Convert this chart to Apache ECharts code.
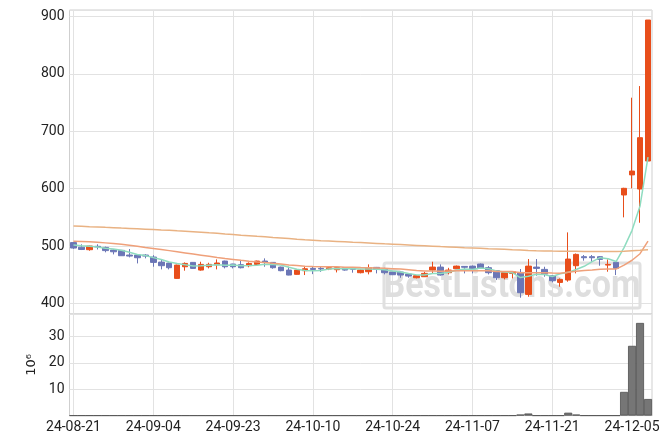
<!DOCTYPE html>
<html>
<head>
<meta charset="utf-8">
<script src="https://cdn.jsdelivr.net/npm/echarts/dist/echarts.min.js"></script>
<style>
html,body{margin:0;padding:0;background:#fff;}
#chart{width:671px;height:444px;}
</style>
</head>
<body>
<div id="chart"></div>
<script>
const categories = [
'24-08-21','24-08-22','24-08-23','24-08-26','24-08-27','24-08-28','24-08-29','24-08-30','24-09-02','24-09-03',
'24-09-04','24-09-05','24-09-09','24-09-10','24-09-11','24-09-13','24-09-16','24-09-18','24-09-19','24-09-20',
'24-09-23','24-09-24','24-09-25','24-09-26','24-09-30','24-10-01','24-10-02','24-10-04','24-10-07','24-10-09',
'24-10-10','24-10-11','24-10-14','24-10-15','24-10-16','24-10-17','24-10-18','24-10-21','24-10-22','24-10-23',
'24-10-24','24-10-25','24-10-28','24-10-29','24-10-30','24-10-31','24-11-01','24-11-04','24-11-05','24-11-06',
'24-11-07','24-11-08','24-11-11','24-11-12','24-11-13','24-11-14','24-11-15','24-11-18','24-11-19','24-11-20',
'24-11-21','24-11-22','24-11-25','24-11-26','24-11-27','24-11-28','24-11-29','24-12-02','24-12-03','24-12-04',
'24-12-05','24-12-06','24-12-09'];

const opens = [
506,498,493.6,499.5,497.6,493,492.4,484.3,484.3,484.3,
480.8,472,470.3,443.6,463.9,471.5,458.1,463.9,467.4,473.8,
468.6,467.4,465.7,467.9,473.8,471.5,463.3,458.1,450.6,457,
461,461,459.9,458.7,462.2,460.5,453.5,455.2,462.8,459.3,
454.6,454.6,451.1,444.7,446.5,458.1,463.3,453.5,460.4,464.5,
465,468.6,462.2,457,444.7,452.3,454,415.7,463.3,459.3,
448.2,436.6,440.7,465.7,481.4,481.4,481.4,466.8,471.5,589,
624,599.4,648.2];

const closes = [
496.5,494,500,498.5,492,490,483.1,482.5,479.6,482.5,
471.5,465.7,462.2,466.8,469.7,461,468,468,470.4,463.9,
463.9,462.2,469.7,473.8,472,462.2,457,449.4,458.1,460.4,
459.3,460,462.2,462.2,458.1,459.5,458.1,462.2,459.3,453.5,
450,449.4,447.6,448.2,452.3,463.3,449.4,458.1,465,463,
460.4,461,453.5,444.7,453.5,455.2,418.6,465,461,451.1,
439.5,441.8,477.3,485.4,479.6,479.6,476.7,468,461,600.6,
630.7,688.9,894];

const lows = [
495,493,491.8,494,489,485.4,483,480.2,469.7,478.5,
463.9,459.3,459.3,443,457,460,457,461,459.3,461,
461,461,463,467,463.9,460.5,456,449,450,449.4,
451,455,458,454,457,453.5,452.3,450.6,452.3,450.6,
449.4,444.7,444.7,443.6,446,452.3,448.5,450.6,459.9,452.3,
452.3,460,450.6,440.7,441.8,443.6,409.9,411.6,448.2,446.5,
436.6,429,437.8,452.3,474.4,472.6,465.7,455.2,449.4,550,
600.6,540.6,648.2];

const highs = [
507,503,500.5,503,499,494,493,494.7,485,486,
484,476,471,467.5,471.5,472,472.6,470.9,476.7,474.5,
469,475,471.5,474.5,478.5,472,464,464,459,463.9,
464,464,465,463,463,461,459,468,463.5,462,
455.5,455,452,449,455,472.6,468,462,466,465,
466,469.5,465,458,454.5,456,459.9,477.3,477.3,463.9,
449,443.6,523.8,487,484.3,484.3,482.5,476.7,472.5,601.5,
758.6,778.9,894];

const volumes = [
0,0,0,0,0,0,0,0,0,0,
0,0,0,0,0,0,0,0,0,0,
0,0,0,0,0,0,0,0,0,0,
0,0,0,0,0,0,0,0,0,0,
0,0,0,0,0,0,0,0,0,0,
0,0,0,0,0,0,0.4,0.8,0,0,
0,0,1.1,0.4,0,0,0,0,0,9.0,
26.5,35.2,6.3];

const ma5 = [
501.7,500.5,499.5,498.5,496.2,494.9,492.7,489.2,485.4,483.5,
479.8,476.4,472.3,469.7,467.2,465.1,465.5,466.7,467.4,466.3,
466.8,465.7,466.0,466.7,468.3,468.0,466.9,462.9,459.7,457.4,
456.8,457.4,460.0,460.8,460.4,460.4,460.0,460.0,459.4,458.5,
456.6,454.9,452.0,449.7,449.5,452.2,452.2,454.3,457.6,459.8,
459.2,461.5,460.6,456.5,454.6,453.6,445.1,447.4,450.7,450.2,
447.0,451.7,454.1,459.0,464.7,472.7,479.7,477.9,473.0,497.2,
527.4,569.8,655.0];

const ma20 = [
508.5,508,507.3,506.5,505.5,504.5,503,501.5,499.5,497.5,
495.8,494,492,490,488,486,484,482,480,478.3,
476.7,475.1,473.6,472.3,471.3,469.9,468.6,467.0,465.9,464.8,
464.2,463.9,463.9,463.7,463.1,463.0,462.5,462.2,461.7,461.2,
460.5,459.8,458.7,457.4,456.5,456.5,456.1,456.6,456.9,457.0,
457.1,457.1,456.7,455.8,455.6,455.4,453.4,453.6,453.6,453.5,
453.0,452.6,454.1,456.0,457.3,458.1,459.5,460.0,459.8,466.7,
475.2,486.6,508.6];

const maLong = [
535.0,534.5,533.8,533.3,532.6,532.0,531.3,530.7,530.1,529.4,
528.7,528.0,527.4,526.6,525.9,525.0,524.1,523.0,522.1,521.0,
520.1,519.0,518.1,517.0,516.1,515.0,514.0,513.0,511.9,511.0,
510.2,509.4,508.8,508.1,507.4,506.6,506.0,505.3,504.6,503.8,
503.2,502.5,501.8,501.1,500.4,499.7,499.0,498.4,497.8,497.1,
496.6,496.0,495.3,494.8,494.2,493.5,493.0,492.4,491.9,491.5,
491.2,491.0,490.9,490.8,490.6,490.6,490.5,490.5,490.4,491.0,
491.8,492.6,493.5];

const UP = '#e84e1b';
const DOWN = '#6b76b6';

const candleData = opens.map((o, i) => [o, closes[i], lows[i], highs[i]]);

const chart = echarts.init(document.getElementById('chart'), null, {renderer: 'canvas'});

const labelFont = {fontFamily: 'Roboto', fontSize: 14, color: '#222'};
const gridLineStyle = {color: '#e2e2e2', width: 1};

const option = {
  animation: false,
  backgroundColor: '#ffffff',
  grid: [
    {left: 69.5, right: 19, top: 10, height: 304, show: true, borderColor: '#cfcfcf', borderWidth: 1, backgroundColor: 'transparent'},
    {left: 69.5, right: 19, top: 314, height: 101.6, show: true, borderColor: '#cfcfcf', borderWidth: 1, backgroundColor: 'transparent'}
  ],
  xAxis: [
    {
      type: 'category', gridIndex: 0, data: categories, boundaryGap: true,
      axisLine: {show: false}, axisTick: {show: false}, axisLabel: {show: false},
      splitLine: {show: true, interval: 9, alignWithLabel: true, lineStyle: gridLineStyle}
    },
    {
      type: 'category', gridIndex: 1, data: categories, boundaryGap: true,
      axisLine: {show: true, lineStyle: {color: '#cfcfcf'}},
      axisTick: {show: false, interval: 9, alignWithLabel: true},
      axisLabel: Object.assign({interval: 9, margin: 5}, labelFont),
      splitLine: {show: true, interval: 9, alignWithLabel: true, lineStyle: gridLineStyle}
    }
  ],
  yAxis: [
    {
      type: 'value', gridIndex: 0, min: 381.5, max: 911.5, position: 'left',
      axisLine: {show: false}, axisTick: {show: false},
      axisLabel: Object.assign({margin: 5, showMinLabel: false, showMaxLabel: false}, labelFont),
      splitLine: {show: true, lineStyle: gridLineStyle}
    },
    {
      type: 'value', gridIndex: 1, min: 0, max: 38.6, position: 'left',
      axisLine: {show: false}, axisTick: {show: false},
      axisLabel: Object.assign({margin: 5, showMinLabel: false, showMaxLabel: false}, labelFont),
      splitLine: {show: true, lineStyle: gridLineStyle},
      name: '10\u2076', nameLocation: 'middle', nameGap: 28, nameRotate: 90,
      nameTextStyle: {fontFamily: 'DejaVu Sans', fontSize: 13, color: '#222'}
    }
  ],
  graphic: [
    {
      type: 'group', z: 1,
      children: [
        {type: 'rect', shape: {x: 384, y: 263, width: 256, height: 45, r: 2},
         style: {fill: 'none', stroke: '#e0e0e0', lineWidth: 3}, z: 1},
        {type: 'text', x: 512, y: 287, scaleY: 1.15, z: 1,
         style: {text: 'BestListons.com', fill: '#dedede', font: 'bold 34px Roboto', textAlign: 'center', textVerticalAlign: 'middle'}}
      ]
    }
  ],
  series: [
    {
      type: 'candlestick', xAxisIndex: 0, yAxisIndex: 0, data: candleData, barWidth: 6,
      itemStyle: {color: UP, color0: DOWN, borderColor: UP, borderColor0: DOWN, borderWidth: 1},
      z: 3
    },
    {type: 'line', xAxisIndex: 0, yAxisIndex: 0, data: ma5, showSymbol: false, smooth: false,
     lineStyle: {color: '#8fdcc0', width: 1.5}, z: 4},
    {type: 'line', xAxisIndex: 0, yAxisIndex: 0, data: ma20, showSymbol: false,
     lineStyle: {color: '#efa07a', width: 1.5}, z: 4},
    {type: 'line', xAxisIndex: 0, yAxisIndex: 0, data: maLong, showSymbol: false,
     lineStyle: {color: '#e9b283', width: 1.5}, z: 4},
    {
      type: 'bar', xAxisIndex: 1, yAxisIndex: 1, data: volumes, barWidth: '100%', barCategoryGap: '0%',
      itemStyle: {color: '#767676', borderColor: '#4f4f4f', borderWidth: 0.8}
    }
  ]
};
chart.setOption(option);
</script>
</body>
</html>
